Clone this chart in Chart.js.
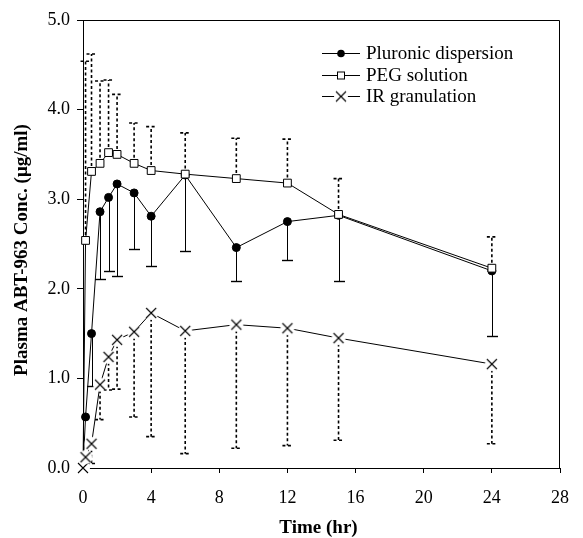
<!DOCTYPE html>
<html><head><meta charset="utf-8">
<script src="https://cdn.jsdelivr.net/npm/chart.js@4"></script>
<style>html,body{margin:0;padding:0;background:#fff}#wrap{position:relative;width:583px;height:538px}</style>
</head><body><div id="wrap"><canvas id="c" width="583" height="538"></canvas></div>
<script>
// ---- data ----
const times = [0, 0.15, 0.5, 1, 1.5, 2, 3, 4, 6, 9, 12, 15, 24];
const pluronic = [0, 0.57, 1.50, 2.86, 3.02, 3.17, 3.07, 2.81, 3.27, 2.46, 2.75, 2.82, 2.20];
const pluronicLower = [null, null, 0.91, 2.11, 2.20, 2.14, 2.44, 2.25, 2.42, 2.09, 2.32, 2.09, 1.47];
const peg = [0, 2.54, 3.31, 3.40, 3.52, 3.50, 3.40, 3.32, 3.28, 3.23, 3.18, 2.83, 2.23];
const pegUpper = [null, 4.54, 4.62, 4.32, 4.33, 4.17, 3.85, 3.81, 3.74, 3.68, 3.67, 3.23, 2.58];
const irGran = [0, 0.12, 0.27, 0.93, 1.24, 1.43, 1.52, 1.73, 1.53, 1.60, 1.56, 1.45, 1.16];
const irLower = [null, null, 0.05, 0.54, 0.87, 0.88, 0.57, 0.35, 0.16, 0.22, 0.25, 0.31, 0.27];
const xTicks = [0, 4, 8, 12, 16, 20, 24, 28];
const yTicks = [0, 1, 2, 3, 4, 5];
const seriesNames = ['Pluronic dispersion', 'PEG solution', 'IR granulation'];
const xTitle = 'Time (hr)';
const yTitle = 'Plasma ABT-963 Conc. (\u03bcg/ml)';

const SERIF = "'Liberation Serif', 'Times New Roman', serif";

function pts(ys) { return times.map((t, i) => ({x: t, y: ys[i]})); }

// × marker with white halo
const crossImg = document.createElement('canvas');
crossImg.width = 16; crossImg.height = 16;
(function () {
  const g = crossImg.getContext('2d');
  g.fillStyle = '#fff';
  g.beginPath(); g.arc(8, 8, 7, 0, Math.PI * 2); g.fill();
  g.strokeStyle = '#000'; g.lineWidth = 1.1;
  g.beginPath();
  g.moveTo(3, 3); g.lineTo(13, 13);
  g.moveTo(13, 3); g.lineTo(3, 13);
  g.stroke();
})();

const errorBars = {
  id: 'errorBars',
  beforeDatasetsDraw(chart) {
    const {ctx, scales: {x, y}} = chart;
    ctx.save();
    ctx.strokeStyle = '#000';
    // Pluronic: solid, downward
    ctx.lineWidth = 1;
    ctx.setLineDash([]);
    times.forEach((t, i) => {
      if (pluronicLower[i] == null) return;
      const px = Math.round(x.getPixelForValue(t)) + 0.5;
      const y0 = y.getPixelForValue(pluronic[i]);
      const y1 = Math.round(y.getPixelForValue(pluronicLower[i])) + 0.5;
      ctx.beginPath();
      ctx.moveTo(px, y0); ctx.lineTo(px, y1);
      ctx.stroke();
      ctx.lineWidth = 1.4;
      ctx.beginPath();
      ctx.moveTo(px - 5.5, y1); ctx.lineTo(px + 5.5, y1);
      ctx.stroke();
      ctx.lineWidth = 1;
    });
    // dotted bars
    ctx.lineWidth = 1.6;
    ctx.setLineDash([3, 2.5]);
    const dotted = (vals, ends) => {
      times.forEach((t, i) => {
        if (ends[i] == null) return;
        const px = x.getPixelForValue(t);
        const y0 = y.getPixelForValue(vals[i]);
        const y1 = y.getPixelForValue(ends[i]);
        ctx.beginPath();
        ctx.moveTo(px, y0); ctx.lineTo(px, y1);
        ctx.stroke();
        ctx.beginPath();
        ctx.moveTo(px - 5, y1); ctx.lineTo(px + 5, y1);
        ctx.stroke();
      });
    };
    dotted(peg, pegUpper);
    dotted(irGran, irLower);
    ctx.restore();
  }
};

const decor = {
  id: 'decor',
  afterDraw(chart) {
    const {ctx, chartArea: a} = chart;
    ctx.save();
    // top and right frame
    ctx.strokeStyle = '#000'; ctx.lineWidth = 1;
    const L = Math.round(a.left) + 0.5, R = Math.round(a.right) - 0.5, T = Math.round(a.top) + 0.5;
    ctx.beginPath();
    ctx.moveTo(L, T); ctx.lineTo(R, T); ctx.lineTo(R, Math.round(a.bottom));
    ctx.stroke();
    // axis titles
    ctx.fillStyle = '#000';
    ctx.font = 'bold 19px ' + SERIF;
    ctx.textAlign = 'center';
    ctx.textBaseline = 'alphabetic';
    ctx.fillText(xTitle, (a.left + a.right) / 2 - 3, 533);
    ctx.save();
    ctx.translate(26.5, 250);
    ctx.rotate(-Math.PI / 2);
    ctx.fillText(yTitle, 0, 0);
    ctx.restore();
    // legend
    const rows = [52.7, 75, 95.7];
    const lx0 = 322, lx1 = 360, mx = 341;
    ctx.font = '19px ' + SERIF;
    ctx.textAlign = 'left';
    rows.forEach((ry, i) => {
      ctx.beginPath();
      ctx.moveTo(lx0, Math.round(ry) + 0.5); ctx.lineTo(lx1, Math.round(ry) + 0.5);
      ctx.stroke();
      const cy = Math.round(ry) + 0.5;
      if (i === 0) {
        ctx.beginPath(); ctx.fillStyle = '#000';
        ctx.arc(mx, cy, 3.8, 0, Math.PI * 2); ctx.fill();
      } else if (i === 1) {
        ctx.fillStyle = '#fff';
        ctx.fillRect(mx - 3.5, cy - 3.5, 7, 7);
        ctx.strokeRect(mx - 3.5, cy - 3.5, 7, 7);
      } else {
        ctx.drawImage(crossImg, mx - 8, cy - 8);
      }
      ctx.fillStyle = '#000';
      ctx.fillText(seriesNames[i], 366, ry + 6);
    });
    ctx.restore();
  }
};

const tickFont = {family: SERIF, size: 18};

new Chart(document.getElementById('c'), {
  type: 'scatter',
  data: {
    datasets: [
      {
        label: seriesNames[2], data: pts(irGran), showLine: true,
        borderColor: '#000', borderWidth: 1, pointStyle: crossImg,
        pointRadius: 5, clip: false
      },
      {
        label: seriesNames[1], data: pts(peg), showLine: true,
        borderColor: '#000', borderWidth: 1, pointStyle: 'rect',
        pointRadius: times.map((t, i) => i === 0 ? 0 : 5.5),
        pointBackgroundColor: '#fff', pointBorderColor: '#000', pointBorderWidth: 1, clip: false
      },
      {
        label: seriesNames[0], data: pts(pluronic), showLine: true,
        borderColor: '#000', borderWidth: 1, pointStyle: 'circle',
        pointRadius: times.map((t, i) => i === 0 ? 0 : 4),
        pointBackgroundColor: '#000', pointBorderColor: '#000', pointBorderWidth: 1, clip: false
      }
    ]
  },
  options: {
    responsive: false, animation: false,
    layout: {padding: {top: 20, right: 10, left: 0, bottom: 0}},
    plugins: {legend: {display: false}, tooltip: {enabled: false}},
    elements: {line: {tension: 0}},
    scales: {
      x: {
        type: 'linear', min: 0, max: 28,
        afterBuildTicks: s => { s.ticks = xTicks.map(v => ({value: v})); },
        afterFit: s => { s.height = 70; },
        ticks: {font: tickFont, color: '#000', padding: 14, maxRotation: 0},
        grid: {drawOnChartArea: false, drawTicks: true, tickLength: 5, color: '#000'},
        border: {display: true, color: '#000', width: 1}
      },
      y: {
        type: 'linear', min: 0, max: 5,
        afterBuildTicks: s => { s.ticks = yTicks.map(v => ({value: v})); },
        afterFit: s => { s.width = 83; },
        ticks: {font: tickFont, color: '#000', padding: 7, callback: v => Number(v).toFixed(1)},
        grid: {drawOnChartArea: false, drawTicks: true, tickLength: 6, color: '#000'},
        border: {display: true, color: '#000', width: 1}
      }
    }
  },
  plugins: [errorBars, decor]
});
</script></body></html>
